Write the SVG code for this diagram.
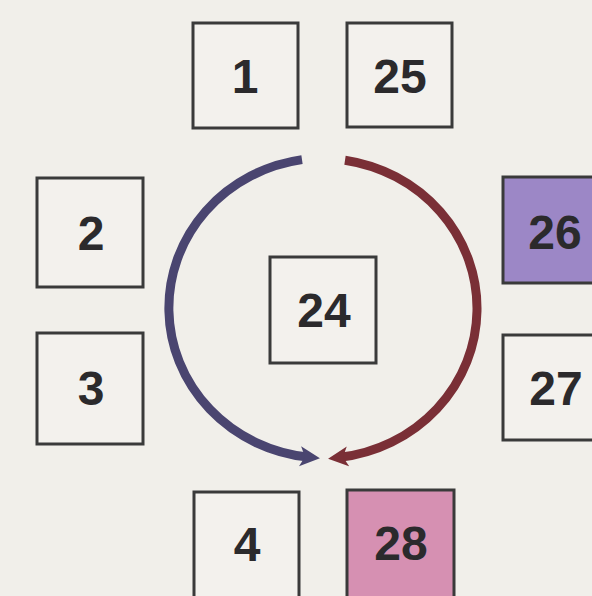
<svg xmlns="http://www.w3.org/2000/svg" width="592" height="596" viewBox="0 0 592 596">
<style>
.box{fill:#f3f1ed;stroke:#3a3a3a;stroke-width:3}
.lbl{font-family:"Liberation Sans",Arial,sans-serif;font-weight:bold;font-size:48px;fill:#2b2a2c;text-anchor:middle}
.arc{fill:none;stroke-width:9;stroke-linecap:butt}
</style>
<defs>
<marker id="hb" markerUnits="userSpaceOnUse" markerWidth="22" markerHeight="24" refX="8" refY="11" orient="auto" viewBox="0 0 22 22">
<path d="M0 1 L20 11 L0 21 L5 11 Z" fill="#4a4570"/>
</marker>
<marker id="hr" markerUnits="userSpaceOnUse" markerWidth="22" markerHeight="24" refX="8" refY="11" orient="auto" viewBox="0 0 22 22">
<path d="M0 1 L20 11 L0 21 L5 11 Z" fill="#7a2f36"/>
</marker>
</defs>
<rect width="592" height="596" fill="#f1efea"/>
<g id="connectors">
<path class="arc" stroke="#4a4570" d="M302 159.6 A156 150 0 0 0 308 457.1" marker-end="url(#hb)"/>
<path class="arc" stroke="#7a2f36" d="M345 160.2 A156 150 0 0 1 340 457.3" marker-end="url(#hr)"/>
</g>
<g id="n1"><rect class="box" x="193" y="23" width="105" height="105"/><text class="lbl" x="245" y="93">1</text></g>
<g id="n25"><rect class="box" x="347" y="23" width="105" height="104"/><text class="lbl" x="400" y="93">25</text></g>
<g id="n2"><rect class="box" x="37" y="178" width="106" height="109"/><text class="lbl" x="91" y="250">2</text></g>
<g id="n3"><rect class="box" x="37" y="333" width="106" height="111"/><text class="lbl" x="91" y="405">3</text></g>
<g id="n26"><rect class="box" x="503" y="177" width="104" height="106" style="fill:#9c87c6"/><text class="lbl" x="555" y="249">26</text></g>
<g id="n27"><rect class="box" x="503" y="335" width="104" height="105"/><text class="lbl" x="556" y="405">27</text></g>
<g id="n24"><rect class="box" x="270" y="257" width="106" height="106"/><text class="lbl" x="324" y="327">24</text></g>
<g id="n4"><rect class="box" x="194" y="492" width="105" height="106"/><text class="lbl" x="247" y="561">4</text></g>
<g id="n28"><rect class="box" x="347" y="490" width="107" height="108" style="fill:#d690b2"/><text class="lbl" x="401" y="560">28</text></g>
</svg>
